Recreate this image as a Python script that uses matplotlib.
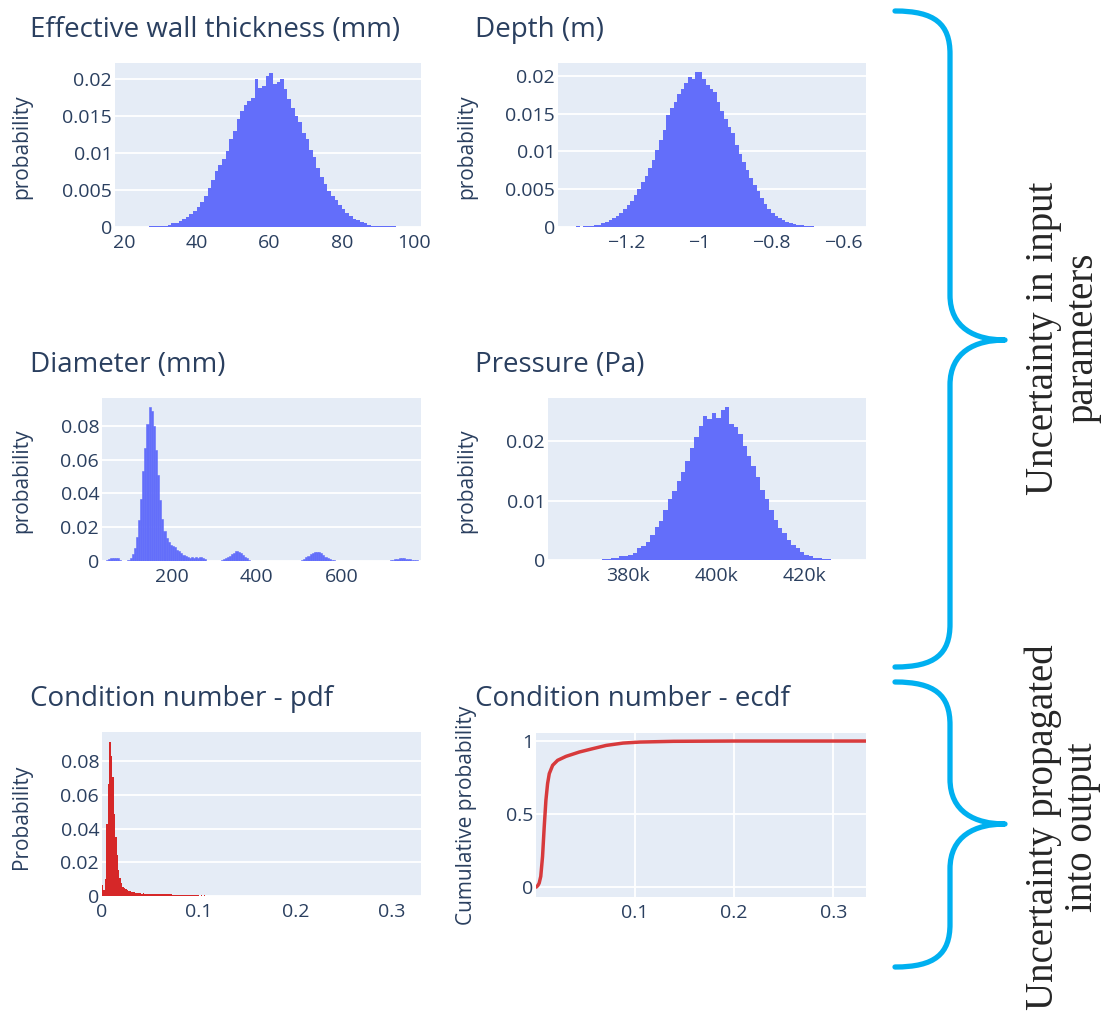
import numpy as np
import matplotlib
matplotlib.use('Agg')
import matplotlib.pyplot as plt
from matplotlib.path import Path
from matplotlib.patches import PathPatch
from matplotlib.transforms import Affine2D

# ---------------- data ----------------
titles = ["Effective wall thickness (mm)", "Depth (m)", "Diameter (mm)",
          "Pressure (Pa)", "Condition number - pdf", "Condition number - ecdf"]

# Effective wall thickness: bins of 1 mm starting at 27 mm
wall_start, wall_bin = 27.0, 1.0
wall_p = [0.0001, 0.0001, 0.0001, 0.0002, 0.0002, 0.0003, 0.0005, 0.0006, 0.0008, 0.0011,
          0.0014, 0.0018, 0.0022, 0.0027, 0.0034, 0.0042, 0.0052, 0.0063, 0.0076, 0.0083,
          0.0092, 0.0103, 0.0118, 0.0130, 0.0146, 0.0156, 0.0164, 0.0170, 0.0174, 0.0199,
          0.0187, 0.0190, 0.0203, 0.0207, 0.0193, 0.0196, 0.0200, 0.0186, 0.0172, 0.0160,
          0.0150, 0.0141, 0.0126, 0.0119, 0.0104, 0.0094, 0.0080, 0.0068, 0.0058, 0.0049,
          0.0042, 0.0037, 0.0030, 0.0024, 0.0019, 0.0015, 0.0011, 0.0009, 0.0007, 0.0005,
          0.0003, 0.0002, 0.0002, 0.0001, 0.0001, 0.0001, 0.0001, 0.0001]
wall_xticks = [20, 40, 60, 80, 100]
wall_yticks = [0, 0.005, 0.01, 0.015, 0.02]
wall_ylabels = ["0", "0.005", "0.01", "0.015", "0.02"]

# Depth: bins of 0.01 m starting at -1.34 m
depth_start, depth_bin = -1.34, 0.01
depth_p = [0.0001, 0.0000, 0.0001, 0.0001, 0.0001, 0.0002, 0.0003, 0.0005, 0.0007, 0.0009,
           0.0012, 0.0015, 0.0019, 0.0024, 0.0029, 0.0034, 0.0043, 0.0050, 0.0059, 0.0068,
           0.0078, 0.0089, 0.0102, 0.0115, 0.0128, 0.0148, 0.0158, 0.0166, 0.0176, 0.0182,
           0.0190, 0.0199, 0.0196, 0.0205, 0.0205, 0.0196, 0.0188, 0.0183, 0.0178, 0.0166,
           0.0153, 0.0143, 0.0132, 0.0124, 0.0108, 0.0096, 0.0086, 0.0076, 0.0065, 0.0056,
           0.0047, 0.0039, 0.0031, 0.0024, 0.0019, 0.0015, 0.0012, 0.0009, 0.0007, 0.0005,
           0.0004, 0.0002, 0.0002, 0.0001, 0.0001, 0.0001]
depth_xticks = [-1.2, -1.0, -0.8, -0.6]
depth_xlabels = ["\u22121.2", "\u22121", "\u22120.8", "\u22120.6"]

# Diameter: bins of 5 mm (left edges of non-empty bins)
diam_bin = 5.0
diam_left = [45, 50, 55, 60, 65, 70, 75,
             95, 100, 105, 110, 115, 120, 125, 130, 135, 140, 145, 150, 155, 160, 165, 170,
             175, 180, 185, 190, 195, 200, 205, 210, 215, 220, 225, 230, 235, 240, 245, 250,
             255, 260, 265, 270, 275,
             315, 320, 325, 330, 335, 340, 345, 350, 355, 360, 365, 370, 375, 380,
             505, 510, 515, 520, 525, 530, 535, 540, 545, 550, 555, 560, 565, 570, 575, 580,
             715, 720, 725, 730, 735, 740, 745, 750, 755, 760, 765, 770, 775]
diam_p = [0.0008, 0.0014, 0.0018, 0.0020, 0.0019, 0.0015, 0.0008,
          0.0006, 0.0018, 0.0040, 0.0075, 0.0140, 0.0240, 0.0370, 0.0530, 0.0670, 0.0810,
          0.0910, 0.0890, 0.0800, 0.0660, 0.0510, 0.0360, 0.0250, 0.0175, 0.0135, 0.0110,
          0.0097, 0.0090, 0.0083, 0.0068, 0.0058, 0.0048, 0.0038, 0.0030, 0.0024, 0.0020,
          0.0023, 0.0020, 0.0023, 0.0019, 0.0021, 0.0015, 0.0010,
          0.0006, 0.0012, 0.0018, 0.0025, 0.0030, 0.0040, 0.0050, 0.0061, 0.0055, 0.0045,
          0.0035, 0.0025, 0.0015, 0.0006,
          0.0006, 0.0012, 0.0022, 0.0032, 0.0042, 0.0050, 0.0055, 0.0056, 0.0055, 0.0048,
          0.0038, 0.0026, 0.0016, 0.0010, 0.0006, 0.0004,
          0.0005, 0.0008, 0.0011, 0.0013, 0.0015, 0.0017, 0.0016, 0.0014, 0.0012, 0.0010,
          0.0008, 0.0006, 0.0005]
diam_xticks = [200, 400, 600]
diam_yticks = [0, 0.02, 0.04, 0.06, 0.08]
diam_ylabels = ["0", "0.02", "0.04", "0.06", "0.08"]

# Pressure: bins of 1 kPa starting at 374 kPa
press_start, press_bin = 374000.0, 1000.0
press_p = [0.0001, 0.0002, 0.0003, 0.0004, 0.0006, 0.0007, 0.0009, 0.0011, 0.0020, 0.0024,
           0.0030, 0.0042, 0.0055, 0.0066, 0.0085, 0.0102, 0.0116, 0.0133, 0.0148, 0.0166,
           0.0188, 0.0207, 0.0225, 0.0243, 0.0238, 0.0248, 0.0240, 0.0253, 0.0258, 0.0230,
           0.0224, 0.0212, 0.0192, 0.0176, 0.0158, 0.0140, 0.0118, 0.0102, 0.0085, 0.0068,
           0.0054, 0.0045, 0.0034, 0.0026, 0.0020, 0.0014, 0.0009, 0.0006, 0.0004, 0.0003,
           0.0002, 0.0001]
press_xticks = [380000, 400000, 420000]
press_xlabels = ["380k", "400k", "420k"]
press_yticks = [0, 0.01, 0.02]
press_ylabels = ["0", "0.01", "0.02"]

# Condition number pdf: bins of 0.0015 starting at 0
cn_start, cn_bin = 0.0, 0.0015
cn_p = [0.0063, 0.0035, 0.0100, 0.0430, 0.0665, 0.0915, 0.0830, 0.0705, 0.0490, 0.0350,
        0.0245, 0.0155, 0.0105, 0.0075, 0.0055, 0.0045, 0.0040, 0.0035, 0.0032, 0.0028,
        0.0026, 0.0024, 0.0021, 0.0019, 0.0017, 0.0016, 0.0015, 0.0014, 0.0015, 0.0013,
        0.0014, 0.0013, 0.0012, 0.0014, 0.0013, 0.0012, 0.0013, 0.0012, 0.0013, 0.0012,
        0.0013, 0.0012, 0.0011, 0.0012, 0.0012, 0.0011, 0.0012, 0.0011, 0.0006, 0.0006,
        0.0005, 0.0006, 0.0005, 0.0006, 0.0005, 0.0005, 0.0006, 0.0005, 0.0005, 0.0005,
        0.0004, 0.0005, 0.0004, 0.0004, 0.0004, 0.0003, 0.0003, 0.0000, 0.0003, 0.0000,
        0.0003]
cn_xticks = [0, 0.1, 0.2, 0.3]
cn_xlabels = ["0", "0.1", "0.2", "0.3"]

# Condition number ecdf
ecdf_x = [0.0005, 0.002, 0.0034, 0.005, 0.0068, 0.0085, 0.0102, 0.0119, 0.0136, 0.017,
          0.022, 0.0305, 0.044, 0.0576, 0.071, 0.088, 0.105, 0.139, 0.2, 0.26, 0.333]
ecdf_y = [0.0, 0.01, 0.027, 0.073, 0.209, 0.414, 0.595, 0.709, 0.777, 0.834,
          0.868, 0.895, 0.925, 0.948, 0.970, 0.986, 0.993, 0.998, 1.0, 1.0, 1.0]
ecdf_xticks = [0.1, 0.2, 0.3]
ecdf_yticks = [0, 0.5, 1]
ecdf_ylabels = ["0", "0.5", "1"]

brace_labels = ["Uncertainty in input\nparameters", "Uncertainty propagated\ninto output"]

# ---------------- figure ----------------
plt.rcParams['font.family'] = ['Open Sans', 'DejaVu Sans']
W, H = 1109, 1017
fig = plt.figure(figsize=(W / 100, H / 100), dpi=100)

BG = '#E5ECF6'
TXT = '#2a3f5f'
BLUE = '#636efa'
RED = '#d62728'
CYAN = '#00b0f0'


def add_ax(l, t, r, b):
    ax = fig.add_axes([l / W, 1 - b / H, (r - l) / W, (b - t) / H])
    ax.set_facecolor(BG)
    for s in ax.spines.values():
        s.set_visible(False)
    ax.tick_params(axis='both', length=0, labelsize=14, labelcolor=TXT)
    ax.tick_params(axis='y', pad=2)
    ax.tick_params(axis='x', pad=5)
    ax.set_axisbelow(True)
    ax.grid(axis='y', color='white', lw=1.3)
    return ax


def title_at(x, y, s):
    fig.text(x / W, 1 - y / H, s, fontsize=20, color=TXT, ha='left', va='baseline')


def ylabel_at(x, y, s):
    fig.text(x / W, 1 - y / H, s, fontsize=15, color=TXT, rotation=90,
             ha='center', va='center')


def edges(start, width, n):
    return start + width * np.arange(n + 1)


# Panel 1: wall thickness
ax1 = add_ax(115, 63, 421, 227)
ax1.stairs(wall_p, edges(wall_start, wall_bin, len(wall_p)), fill=True, color=BLUE, lw=0)
ax1.set_xlim(17.5, 101.8)
ax1.set_ylim(0, 0.0221)
ax1.set_xticks(wall_xticks)
ax1.set_xticklabels([str(v) for v in wall_xticks])
ax1.set_yticks(wall_yticks)
ax1.set_yticklabels(wall_ylabels)
title_at(30, 37, titles[0])
ylabel_at(22, 147, "probability")

# Panel 2: depth
ax2 = add_ax(558, 63, 866, 227)
ax2.stairs(depth_p, edges(depth_start, depth_bin, len(depth_p)), fill=True, color=BLUE, lw=0)
ax2.set_xlim(-1.39, -0.537)
ax2.set_ylim(0, 0.0217)
ax2.set_xticks(depth_xticks)
ax2.set_xticklabels(depth_xlabels)
ax2.set_yticks(wall_yticks)
ax2.set_yticklabels(wall_ylabels)
title_at(475, 37, titles[1])
ylabel_at(467, 147, "probability")

# Panel 3: diameter
ax3 = add_ax(102, 398, 421, 561)
ax3.bar(diam_left, diam_p, width=diam_bin, align='edge', color=BLUE,
        edgecolor=BLUE, lw=0.4)
ax3.set_xlim(35, 788)
ax3.set_ylim(0, 0.0965)
ax3.set_xticks(diam_xticks)
ax3.set_xticklabels([str(v) for v in diam_xticks])
ax3.set_yticks(diam_yticks)
ax3.set_yticklabels(diam_ylabels)
title_at(30, 372, titles[2])
ylabel_at(22, 481, "probability")

# Panel 4: pressure
ax4 = add_ax(548, 398, 866, 560)
ax4.stairs(press_p, edges(press_start, press_bin, len(press_p)), fill=True, color=BLUE, lw=0)
ax4.set_xlim(361800, 434000)
ax4.set_ylim(0, 0.0273)
ax4.set_xticks(press_xticks)
ax4.set_xticklabels(press_xlabels)
ax4.set_yticks(press_yticks)
ax4.set_yticklabels(press_ylabels)
title_at(475, 372, titles[3])
ylabel_at(467, 481, "probability")

# Panel 5: condition number pdf
ax5 = add_ax(102, 732, 421, 896)
ax5.stairs(cn_p, edges(cn_start, cn_bin, len(cn_p)), fill=True, color=RED, lw=0)
ax5.set_xlim(0, 0.33)
ax5.set_ylim(0, 0.0975)
ax5.set_xticks(cn_xticks)
ax5.set_xticklabels(cn_xlabels)
ax5.set_yticks(diam_yticks)
ax5.set_yticklabels(diam_ylabels)
title_at(30, 706, titles[4])
ylabel_at(21, 817, "Probability")

# Panel 6: condition number ecdf
ax6 = add_ax(536, 733, 866, 897)
ax6.grid(axis='x', color='white', lw=1.3)
ax6.plot(ecdf_x, ecdf_y, color=RED, lw=2.5, alpha=0.9, solid_capstyle='round')
ax6.set_xlim(0.0002, 0.333)
ax6.set_ylim(-0.068, 1.055)
ax6.set_xticks(ecdf_xticks)
ax6.set_xticklabels([str(v) for v in ecdf_xticks])
ax6.set_yticks(ecdf_yticks)
ax6.set_yticklabels(ecdf_ylabels)
title_at(475, 706, titles[5])
ylabel_at(467, 815, "Cumulative probability")

# ---------------- braces ----------------
pix = Affine2D().scale(1 / W, -1 / H).translate(0, 1) + fig.transFigure


def brace(top, bottom, tip, x0=895, xm=950, xt=1005):
    verts = [(x0, top),
             (xm - 15, top), (xm, top + 13), (xm, top + 43),
             (xm, tip - 45),
             (xm, tip - 12), (xm + 25, tip), (xt, tip),
             (xm + 25, tip), (xm, tip + 12), (xm, tip + 45),
             (xm, bottom - 43),
             (xm, bottom - 13), (xm - 15, bottom), (x0, bottom)]
    codes = [Path.MOVETO,
             Path.CURVE4, Path.CURVE4, Path.CURVE4,
             Path.LINETO,
             Path.CURVE4, Path.CURVE4, Path.CURVE4,
             Path.CURVE4, Path.CURVE4, Path.CURVE4,
             Path.LINETO,
             Path.CURVE4, Path.CURVE4, Path.CURVE4]
    patch = PathPatch(Path(verts, codes), facecolor='none', edgecolor=CYAN, lw=3.8,
                      capstyle='round', joinstyle='round', transform=pix)
    fig.add_artist(patch)


brace(11, 667, 340)
brace(682, 967, 824)

for (cx, cy), lab in zip([(1063, 338), (1063, 827)], brace_labels):
    fig.text(cx / W, 1 - cy / H, lab, rotation=90, ha='center', va='center',
             multialignment='center', fontsize=28, linespacing=1.08,
             family=['Liberation Serif', 'DejaVu Serif'], color='#262626')

fig.savefig('out.png', dpi=100)
